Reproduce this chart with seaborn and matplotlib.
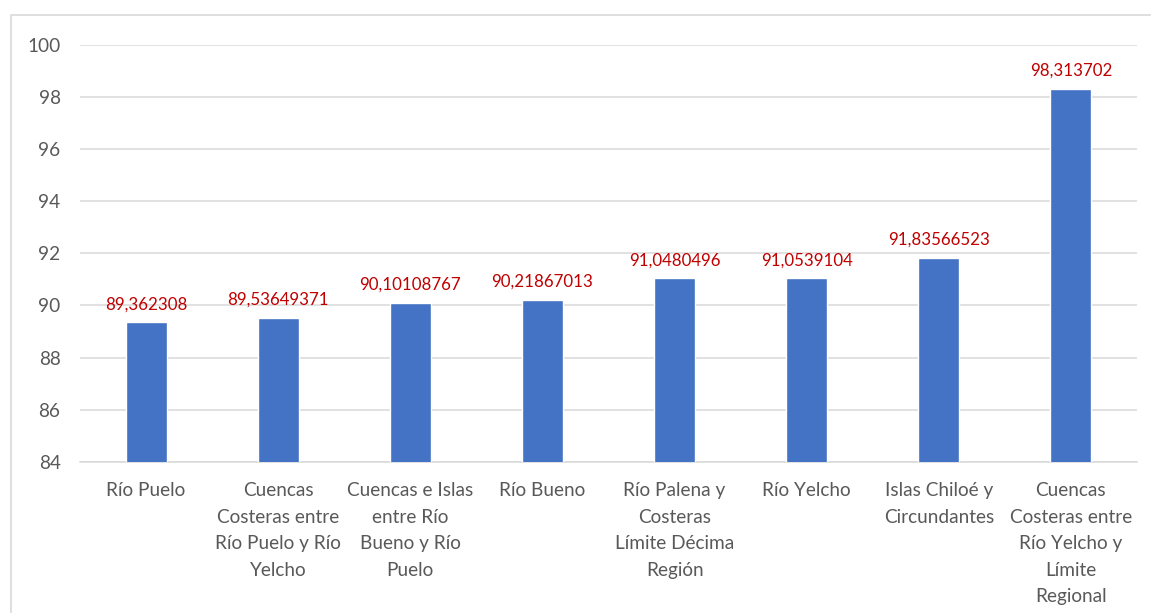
import matplotlib
matplotlib.use("Agg")
import matplotlib.pyplot as plt
from matplotlib.patches import Rectangle
import seaborn as sns
import pandas as pd

categories = [
    "Río Puelo",
    "Cuencas\nCosteras entre\nRío Puelo y Río\nYelcho",
    "Cuencas e Islas\nentre Río\nBueno y Río\nPuelo",
    "Río Bueno",
    "Río Palena y\nCosteras\nLímite Décima\nRegión",
    "Río Yelcho",
    "Islas Chiloé y\nCircundantes",
    "Cuencas\nCosteras entre\nRío Yelcho y\nLímite\nRegional",
]
values = [89.362308, 89.53649371, 90.10108767, 90.21867013,
          91.0480496, 91.0539104, 91.83566523, 98.313702]
y_ticks = [84, 86, 88, 90, 92, 94, 96, 98, 100]

sns.set_theme(style="white")
plt.rcParams["font.family"] = ["Lato", "DejaVu Sans"]

TEXT = "#595959"
GRID = "#D9D9D9"
BAR = "#4472C4"
LABEL = "#C00000"

df = pd.DataFrame({"cuenca": categories, "valor": values})

fig = plt.figure(figsize=(11.51, 6.13), dpi=100)
ax = fig.add_axes([80 / 1151, 1 - 462 / 613, (1137 - 80) / 1151, (462 - 44.5) / 613])

sns.barplot(data=df, x="cuenca", y="valor", color=BAR, width=0.31,
            saturation=1, ax=ax, zorder=3)

ax.set_ylim(84, 100)
ax.set_yticks(y_ticks)
ax.set_xlim(-0.5, len(categories) - 0.5)
ax.set_xlabel("")
ax.set_ylabel("")
ax.grid(axis="y", color=GRID, linewidth=1.1, zorder=0)
ax.grid(axis="x", visible=False)
for side in ["top", "right", "left"]:
    ax.spines[side].set_visible(False)
ax.spines["bottom"].set_color(GRID)
ax.spines["bottom"].set_linewidth(1.1)
ax.tick_params(axis="y", length=0, pad=14, labelsize=13.7, labelcolor=TEXT)
ax.tick_params(axis="x", length=0, pad=14.5, labelsize=13.7, labelcolor=TEXT)
for lbl in ax.get_xticklabels():
    lbl.set_linespacing(1.68)
    lbl.set_verticalalignment("top")

for i, v in enumerate(values):
    ax.annotate(str(v).replace(".", ","), xy=(i, v), xytext=(0, 7),
                textcoords="offset points", ha="center", va="bottom",
                color=LABEL, fontsize=12.2)

# chart frame
fig.patches.append(Rectangle((10.5 / 1151, -0.1), 1.2, 1 - 15.5 / 613 + 0.1,
                             transform=fig.transFigure, fill=False,
                             edgecolor=GRID, linewidth=1.2))

fig.savefig("out.png", dpi=100, facecolor="white")
